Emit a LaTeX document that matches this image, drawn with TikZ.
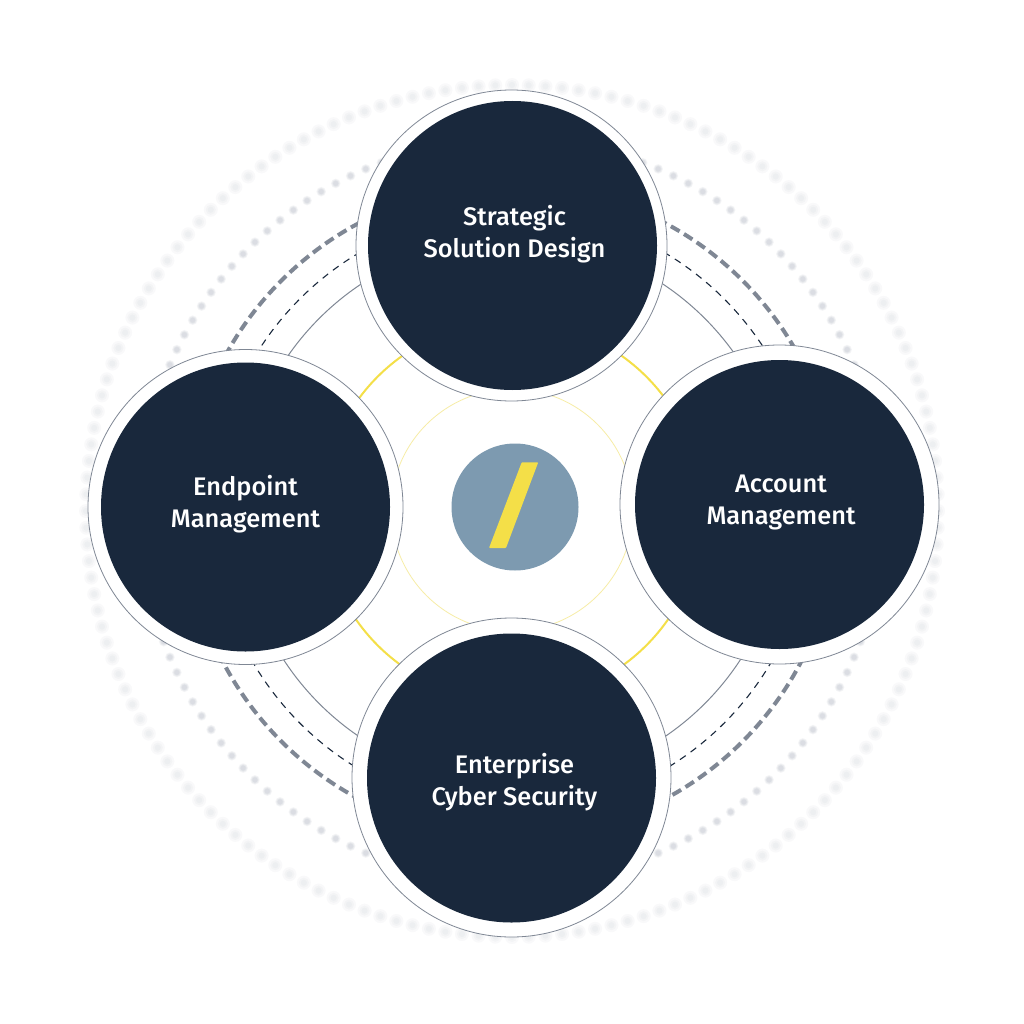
\documentclass[tikz,border=0pt]{standalone}
\usepackage{fontspec}
\usetikzlibrary{calc}
\setmainfont{Fira Sans}[UprightFont=* Medium]
\definecolor{navy}{HTML}{19283C}
\definecolor{ringgrey}{HTML}{7F8794}
\definecolor{haze}{HTML}{6E7A90}
\definecolor{sun}{HTML}{F4DF48}
\definecolor{paleSun}{HTML}{F7EDA6}
\definecolor{steel}{HTML}{7D9AB0}
\tikzset{
  x=1pt,y=-1pt,
  ring/.style={draw,fill=none},
  shell/.style={circle,draw=ringgrey,line width=0.8pt,fill=white,inner sep=0pt},
  core/.style={circle,fill=navy,inner sep=0pt,minimum size=289pt},
  caption/.style={text=white,inner sep=0pt,align=center,
    font=\fontsize{25.4pt}{32pt}\selectfont},
}
\begin{document}
\begin{tikzpicture}
\useasboundingbox (0,0) rectangle (1024,1024);
\fill[white] (0,0) rectangle (1024,1024);
\coordinate (c) at (512,511);
% outer blurred ring: soft dots
\foreach \a in {0,2.25,...,357.75}{
  \foreach \r in {3,5,7}{
    \fill[haze,fill opacity=0.04] ($(c)+(\a:426)$) circle[radius=\r];
  }
}
% dotted ring: slightly blurred dots
\foreach \a in {0,2.5714,...,358}{
  \foreach \r in {2.5,3.2,4,4.8}{
    \fill[haze,fill opacity=0.068] ($(c)+(\a:372)$) circle[radius=\r];
  }
}
\draw[ring,draw=ringgrey,line width=4pt,dash pattern=on 10pt off 5.2pt] (c) circle[radius=326];
\draw[ring,draw=navy,line width=1.1pt,dash pattern=on 7pt off 6pt] (c) circle[radius=300];
\draw[ring,draw=ringgrey,line width=1pt] (c) circle[radius=272.5];
\draw[ring,draw=sun,line width=2pt] (c) circle[radius=190];
\draw[ring,draw=paleSun,line width=0.8pt] (512,510) circle[radius=121];
% centre logo
\node[circle,fill=steel,minimum size=127pt,inner sep=0pt] (logo) at (515,507) {};
\fill[sun,rounded corners=0.8pt] (521.7,462.3) -- (538.2,462.3) -- (506,548) -- (489,548) -- cycle;
% four services
\node[shell,minimum size=311pt] (topS) at (511.5,245.5) {};
\node[core] (top) at (512.5,245.5) {};
\node[caption] (topT) at (514.5,234) {Strategic\\Solution Design};
\node[shell,minimum size=319pt] (rightS) at (779.5,504.5) {};
\node[core] (right) at (779.5,504.5) {};
\node[caption] (rightT) at (781,502.5) {Account\\Management};
\node[shell,minimum size=319pt] (bottomS) at (511.5,777.5) {};
\node[core] (bottom) at (511.5,778) {};
\node[caption] (bottomT) at (514.5,782) {Enterprise\\Cyber Security};
\node[shell,minimum size=315pt] (leftS) at (245.5,507) {};
\node[core] (left) at (245.5,507) {};
\node[caption] (leftT) at (245.5,504) {Endpoint\\Management};
\end{tikzpicture}
\end{document}
